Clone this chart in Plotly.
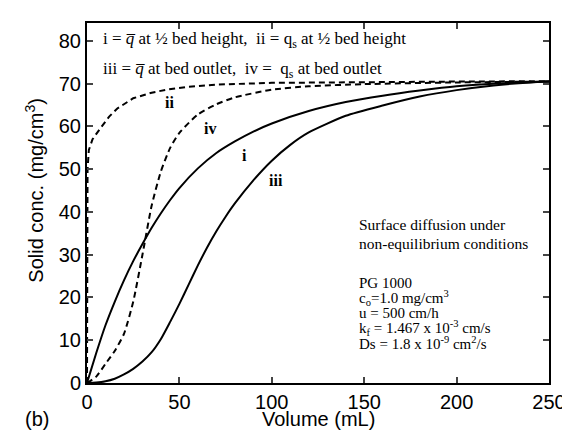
import plotly.graph_objects as go

# Curve i: q-bar at 1/2 bed height (solid)
vol_i = [0, 5, 10, 15, 20, 25, 30, 35, 40, 45, 50, 60, 70, 80, 90, 100, 120, 140, 160, 180, 200, 225, 250]
conc_i = [0, 7, 13.5, 19, 24, 28.5, 32.5, 36.3, 39.7, 42.8, 45.6, 50.2, 53.8, 56.5, 58.8, 60.7, 63.6, 65.7, 67.2, 68.4, 69.4, 70.1, 70.5]

# Curve ii: qs at 1/2 bed height (dashed)
vol_ii = [0, 0, 0.3, 1, 3, 7.6, 12, 16.4, 25, 35, 43, 55, 70, 100, 150, 200, 250]
conc_ii = [0, 38, 50, 54.5, 57, 59.8, 62.3, 64.2, 66.6, 67.9, 68.6, 69.3, 69.8, 70.2, 70.4, 70.5, 70.6]

# Curve iii: q-bar at bed outlet (solid)
vol_iii = [0, 5, 10, 15, 20, 25, 30, 35, 40, 45, 50, 55, 60, 65, 70, 75, 80, 90, 100, 110, 120, 140, 160, 180, 200, 220, 240, 250]
conc_iii = [0, 0.1, 0.4, 1, 2, 3.3, 5, 7.2, 10.3, 14.3, 18.5, 23, 27.5, 31.7, 35.5, 38.9, 42, 47.4, 52, 55.7, 58.6, 62.5, 64.9, 67, 68.5, 69.6, 70.3, 70.5]

# Curve iv: qs at bed outlet (dashed)
vol_iv = [0, 5, 10, 15, 20, 25, 30, 35, 40, 45, 50, 60, 70, 80, 100, 120, 150, 200, 250]
conc_iv = [0, 1.5, 4.5, 7.5, 11.5, 19, 30, 41.5, 49.5, 55, 58.5, 62.8, 65.2, 66.8, 68.6, 69.4, 69.9, 70.3, 70.5]

x_ticks = [0, 50, 100, 150, 200, 250]
y_ticks = [0, 10, 20, 30, 40, 50, 60, 70, 80]

fig = go.Figure()
solid = dict(color="black", width=2, shape="spline", smoothing=0.6)
dashed = dict(color="black", width=2, dash="6px,4px", shape="spline", smoothing=0.6)
fig.add_trace(go.Scatter(x=vol_i, y=conc_i, mode="lines", line=solid))
fig.add_trace(go.Scatter(x=vol_ii, y=conc_ii, mode="lines", line=dict(color="black", width=2, dash="6px,4px")))
fig.add_trace(go.Scatter(x=vol_iii, y=conc_iii, mode="lines", line=solid))
fig.add_trace(go.Scatter(x=vol_iv, y=conc_iv, mode="lines", line=dashed))

axis_font = dict(family="Liberation Sans, Arial, sans-serif", size=20, color="black")
serif = "Liberation Serif, Times New Roman, serif"

fig.update_layout(
    width=570, height=430,
    margin=dict(l=79, r=18, t=15, b=55),
    paper_bgcolor="white", plot_bgcolor="white",
    showlegend=False,
    xaxis=dict(range=[0, 250], tickvals=x_ticks, ticks="inside", ticklen=6, tickwidth=1.5,
               showline=True, linewidth=2, linecolor="black", mirror="ticks", showgrid=False,
               zeroline=False, tickfont=axis_font),
    yaxis=dict(range=[0, 84.2], tickvals=y_ticks, ticks="inside", ticklen=6, tickwidth=1.5,
               showline=True, linewidth=2, linecolor="black", mirror="ticks", showgrid=False,
               zeroline=False, tickfont=axis_font),
)

ann = []
def A(text, x, y, size=15, family=serif, xanchor="left", **kw):
    ann.append(dict(text=text, x=x, y=y, xref="x", yref="y", showarrow=False, xanchor=xanchor,
                    yanchor="middle", font=dict(family=family, size=size, color="black"), **kw))

qbar = "<i>q\u0305</i>"
A(f"i = {qbar} at ½ bed height,  ii = q<sub>s</sub> at ½ bed height", 7.4, 80.2, size=17)
A(f"iii = {qbar} at bed outlet,  iv =  q<sub>s</sub> at bed outlet", 7.4, 73.2, size=17)

A("Surface diffusion under", 145.9, 37.0, size=15.5)
A("non-equilibrium conditions", 145.9, 32.7, size=15.5)
A("PG 1000", 145.9, 23.4, size=15)
A("c<sub>o</sub>=1.0 mg/cm<sup>3</sup>", 145.9, 19.9, size=15)
A("u = 500 cm/h", 145.9, 16.4, size=15)
A("k<sub>f</sub> = 1.467 x 10<sup>-3</sup> cm/s", 145.9, 12.9, size=15)
A("Ds = 1.8 x 10<sup>-9</sup> cm<sup>2</sup>/s", 145.9, 9.4, size=15)

A("<b>ii</b>", 44.4, 65.5, size=16, xanchor="center")
A("<b>iv</b>", 66.6, 59.6, size=16, xanchor="center")
A("<b>i</b>", 85.1, 53.3, size=16, xanchor="center")
A("<b>iii</b>", 102.5, 47.3, size=16, xanchor="center")

ann.append(dict(text="Volume (mL)", x=0.5, y=(375 - 411) / 360, xref="paper", yref="paper",
                showarrow=False, xanchor="center", yanchor="middle", font=axis_font))
ann.append(dict(text="Solid conc. (mg/cm<sup>3</sup>)", x=(25 - 79) / 473, y=0.535, xref="paper", yref="paper",
                showarrow=False, xanchor="center", yanchor="middle", textangle=-90, font=axis_font))
ann.append(dict(text="(b)", x=(13 - 79) / 473, y=(375 - 411) / 360, xref="paper", yref="paper",
                showarrow=False, xanchor="left", yanchor="middle", font=axis_font))
fig.update_layout(annotations=ann)

fig.write_html("out.html")
